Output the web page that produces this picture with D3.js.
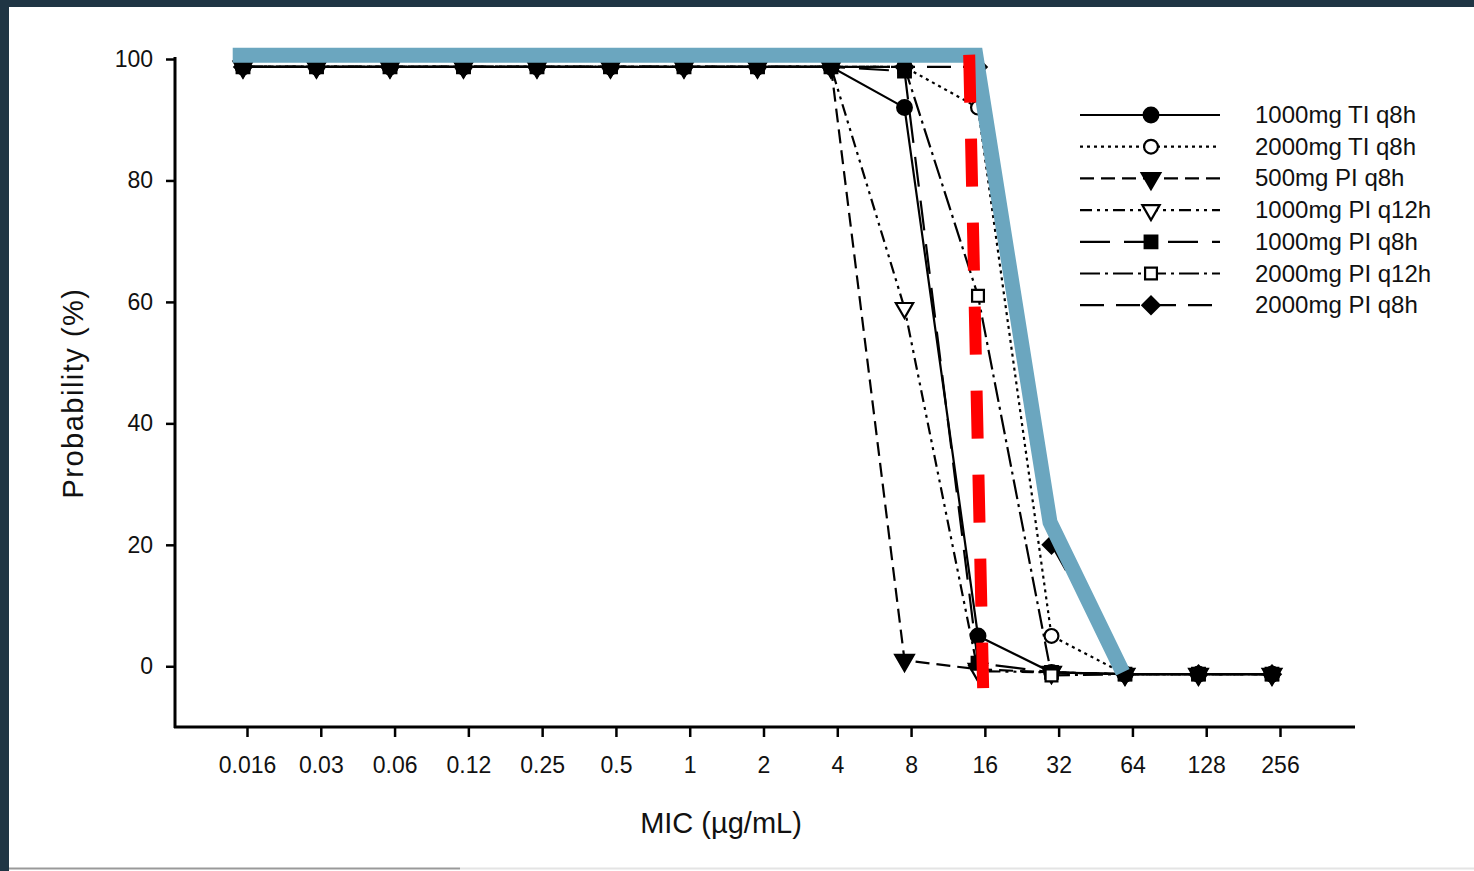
<!DOCTYPE html>
<html>
<head>
<meta charset="utf-8">
<script src="https://cdn.jsdelivr.net/npm/d3@7"></script>
<style>
  html, body { margin: 0; padding: 0; background: #1f3544; }
  svg { display: block; }
  text { font-family: "Liberation Sans", Arial, sans-serif; fill: #111; }
</style>
</head>
<body>
<svg id="chart" width="1474" height="871"></svg>
<script>
// MIC categories on the x axis
const micLabels = ["0.016", "0.03", "0.06", "0.12", "0.25", "0.5", "1", "2", "4", "8", "16", "32", "64", "128", "256"];
const yTicks = [0, 20, 40, 60, 80, 100];

// probability (%) per regimen, one value per MIC
const tiQ8h1000 = [98.7, 98.7, 98.7, 98.7, 98.7, 98.7, 98.7, 98.7, 98.7, 92, 5, -1, -1.3, -1.3, -1.3];
const tiQ8h2000 = [98.7, 98.7, 98.7, 98.7, 98.7, 98.7, 98.7, 98.7, 98.7, 98.7, 92, 5, -1.3, -1.3, -1.3];
const piQ8h500 = [98.7, 98.7, 98.7, 98.7, 98.7, 98.7, 98.7, 98.7, 98.7, 1, -0.5, -1, -1.3, -1.3, -1.3];
const piQ12h1000 = [98.7, 98.7, 98.7, 98.7, 98.7, 98.7, 98.7, 98.7, 98.7, 59, -0.8, -1, -1.3, -1.3, -1.3];
const piQ8h1000 = [98.7, 98.7, 98.7, 98.7, 98.7, 98.7, 98.7, 98.7, 98.7, 98, 0.5, -1, -1.3, -1.3, -1.3];
const piQ12h2000 = [98.7, 98.7, 98.7, 98.7, 98.7, 98.7, 98.7, 98.7, 98.7, 98.7, 61, -1.5, -1.3, -1.3, -1.3];
const piQ8h2000 = [98.7, 98.7, 98.7, 98.7, 98.7, 98.7, 98.7, 98.7, 98.7, 98.7, 98.7, 20, -1.3, -1.3, -1.3];

const seriesNames = ["1000mg TI q8h", "2000mg TI q8h", "500mg PI q8h", "1000mg PI q12h", "1000mg PI q8h", "2000mg PI q12h", "2000mg PI q8h"];
const seriesValues = [tiQ8h1000, tiQ8h2000, piQ8h500, piQ12h1000, piQ8h1000, piQ12h2000, piQ8h2000];

// hand drawn overlays (x as position in MIC index, y in %)
const blueIdx = [-0.14, 9.97, 10.98, 11.97];
const blueVal = [100.6, 100.6, 23.7, -1];
const redIdx = [9.88, 10.07];
const redVal = [100.7, -3.6];

// line dash + marker style per series
const dashes = [null, "3,4", "14,7", "12,5,3,5,3,5", "30,14", "20,5,3,5", "24,12"];
const markers = [
  {type: d3.symbolCircle, size: 170, fill: "#000", rot: 0},
  {type: d3.symbolCircle, size: 150, fill: "#fff", rot: 0},
  {type: d3.symbolTriangle, size: 150, fill: "#000", rot: 180},
  {type: d3.symbolTriangle, size: 130, fill: "#fff", rot: 180},
  {type: d3.symbolSquare, size: 160, fill: "#000", rot: 0},
  {type: d3.symbolSquare, size: 140, fill: "#fff", rot: 0},
  {type: d3.symbolSquare, size: 150, fill: "#000", rot: 45}
];

const svg = d3.select("#chart");

// white page panel over the dark frame
svg.append("rect").attr("x", 9).attr("y", 7).attr("width", 1465).attr("height", 864).attr("fill", "#fff");
svg.append("line").attr("x1", 9).attr("x2", 460).attr("y1", 868.5).attr("y2", 868.5)
  .attr("stroke", "#999").attr("stroke-width", 2);
svg.append("line").attr("x1", 460).attr("x2", 1474).attr("y1", 868.5).attr("y2", 868.5)
  .attr("stroke", "#e4e4e4").attr("stroke-width", 2);

// tick positions and the (slightly shifted) plotted data positions of the scan
const x = d3.scaleLinear().domain([0, micLabels.length - 1]).range([247, 1280]);
const xd = d3.scaleLinear().domain([0, micLabels.length - 1]).range([243, 1272]);
const y = d3.scaleLinear().domain([-10, 100]).range([727, 59]);

const xAxis = d3.axisBottom(x)
  .tickValues(d3.range(micLabels.length))
  .tickFormat(i => micLabels[i])
  .tickSize(10).tickSizeOuter(0).tickPadding(20);
const yAxis = d3.axisLeft(y)
  .tickValues(yTicks)
  .tickSize(9).tickSizeOuter(0).tickPadding(13);

const gx = svg.append("g").attr("transform", "translate(0,727)").call(xAxis);
gx.select(".domain").remove();
gx.append("line").attr("x1", 174).attr("x2", 1355).attr("stroke", "#000").attr("stroke-width", 3);
gx.selectAll(".tick line").attr("stroke", "#000").attr("stroke-width", 2.5);
gx.selectAll(".tick text").attr("font-size", 23).attr("fill", "#111")
  .attr("font-family", "Liberation Sans, Arial, sans-serif");

const gy = svg.append("g").attr("transform", "translate(175,0)").call(yAxis);
gy.select(".domain").remove();
gy.append("line").attr("y1", 57).attr("y2", 728).attr("stroke", "#000").attr("stroke-width", 3);
gy.selectAll(".tick line").attr("stroke", "#000").attr("stroke-width", 2.5);
gy.selectAll(".tick text").attr("font-size", 23).attr("fill", "#111")
  .attr("font-family", "Liberation Sans, Arial, sans-serif");

// axis titles
svg.append("text").attr("x", 721).attr("y", 833).attr("text-anchor", "middle")
  .attr("font-size", 29).text("MIC (\u00b5g/mL)");
svg.append("text").attr("transform", "translate(83,393) rotate(-90)").attr("text-anchor", "middle")
  .attr("font-size", 29).attr("letter-spacing", 1.5).text("Probability (%)");

// series lines
const line = d3.line().x((d, i) => xd(i)).y(d => y(d));
seriesValues.forEach((vals, s) => {
  svg.append("path").datum(vals)
    .attr("d", line)
    .attr("fill", "none").attr("stroke", "#000").attr("stroke-width", 2.2)
    .attr("stroke-dasharray", dashes[s]);
});

// markers
const sym = d3.symbol();
seriesValues.forEach((vals, s) => {
  const m = markers[s];
  svg.append("g").selectAll("path").data(vals).join("path")
    .attr("transform", (d, i) => "translate(" + xd(i) + "," + y(d) + ") rotate(" + m.rot + ")")
    .attr("d", sym.type(m.type).size(m.size)())
    .attr("fill", m.fill).attr("stroke", "#000").attr("stroke-width", 2.2);
});

// legend
const legend = svg.append("g").attr("transform", "translate(1080,115)");
seriesNames.forEach((name, s) => {
  const g = legend.append("g").attr("transform", "translate(0," + s * 31.7 + ")");
  g.append("line").attr("x1", 0).attr("x2", 140)
    .attr("stroke", "#000").attr("stroke-width", 2.2).attr("stroke-dasharray", dashes[s]);
  const m = markers[s];
  g.append("path").attr("transform", "translate(71,0) rotate(" + m.rot + ")")
    .attr("d", sym.type(m.type).size(m.size)())
    .attr("fill", m.fill).attr("stroke", "#000").attr("stroke-width", 2.2);
  g.append("text").attr("x", 175).attr("y", 8).attr("font-size", 24).text(name);
});

// overlays: blue outline and red dashed cut-off
svg.append("path")
  .datum(blueIdx.map((v, i) => [v, blueVal[i]]))
  .attr("d", d3.line().x(d => xd(d[0])).y(d => y(d[1])))
  .attr("fill", "none").attr("stroke", "#6ba6bf").attr("stroke-width", 15)
  .attr("stroke-linejoin", "miter");

svg.append("path")
  .datum(redIdx.map((v, i) => [v, redVal[i]]))
  .attr("d", d3.line().x(d => xd(d[0])).y(d => y(d[1])))
  .attr("fill", "none").attr("stroke", "#ff0000").attr("stroke-width", 12)
  .attr("stroke-dasharray", "48,36");
</script>
</body>
</html>
